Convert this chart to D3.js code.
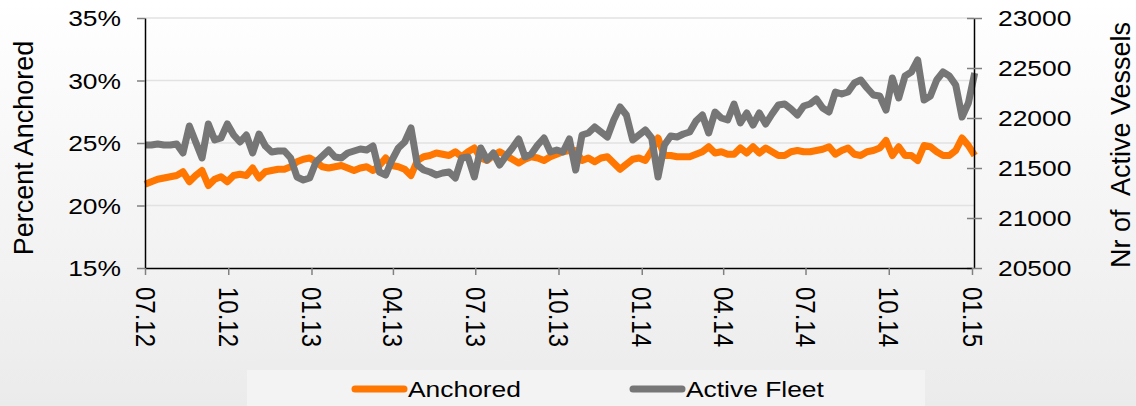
<!DOCTYPE html>
<html>
<head>
<meta charset="utf-8">
<script src="https://cdn.jsdelivr.net/npm/d3@7"></script>
<style>
  body { margin: 0; overflow: hidden; }
  svg { display: block; font-family: "Liberation Sans", Arial, sans-serif; }
</style>
</head>
<body>
<svg id="chart" width="1136" height="406"></svg>
<script>
// weekly series, first week of July 2012 to first week of January 2015
var anchored = [
  21.7, 21.9, 22.1, 22.2, 22.3, 22.4, 22.7, 21.9, 22.4, 22.8,
  21.6, 22.1, 22.3, 21.9, 22.4, 22.5, 22.4, 23.0, 22.2, 22.7,
  22.8, 22.9, 22.9, 23.1, 23.5, 23.7, 23.8, 23.5, 23.1, 23.0,
  23.1, 23.2, 23.0, 22.8, 23.0, 23.1, 22.8, 23.2, 23.8, 23.2,
  23.1, 22.9, 22.4, 23.6, 23.9, 24.0, 24.2, 24.1, 24.0, 24.3,
  23.9, 24.3, 24.6, 23.8, 23.6, 24.0, 24.3, 24.0, 23.7, 23.4,
  23.7, 23.9, 23.8, 23.6, 23.9, 24.1, 24.3, 24.4, 24.4, 23.6,
  23.8, 23.5, 23.8, 23.9, 23.4, 22.9, 23.3, 23.7, 23.8, 23.6,
  24.4, 25.4, 24.0, 24.0, 23.9, 23.9, 23.9, 24.1, 24.3, 24.7,
  24.2, 24.3, 24.1, 24.1, 24.6, 24.2, 24.7, 24.2, 24.6, 24.3,
  24.0, 24.0, 24.3, 24.4, 24.3, 24.3, 24.4, 24.5, 24.7, 24.1,
  24.4, 24.6, 24.1, 24.0, 24.3, 24.4, 24.6, 25.2, 24.0, 24.7,
  24.0, 24.0, 23.6, 24.8, 24.7, 24.3, 24.0, 24.0, 24.4, 25.4,
  24.8, 24.0
];

var activeFleet = [
  21730, 21730, 21740, 21730, 21730, 21740, 21650, 21920, 21760, 21600,
  21940, 21780, 21800, 21940, 21830, 21760, 21830, 21650, 21840, 21720,
  21660, 21670, 21670, 21600, 21410, 21380, 21400, 21560, 21620, 21680,
  21610, 21600, 21650, 21670, 21690, 21680, 21720, 21460, 21430, 21580,
  21700, 21760, 21900, 21530, 21480, 21460, 21430, 21450, 21460, 21400,
  21600, 21610, 21410, 21700, 21580, 21650, 21530, 21620, 21700, 21790,
  21610, 21640, 21730, 21800, 21660, 21680, 21660, 21790, 21480, 21830,
  21850, 21910, 21860, 21810, 21980, 22110, 22030, 21780, 21830, 21880,
  21800, 21410, 21730, 21820, 21810, 21840, 21860, 21970, 22030, 21850,
  22060, 22000, 21980, 22140, 21950, 22050, 21930, 22050, 21940, 22040,
  22130, 22140, 22090, 22030, 22120, 22140, 22190, 22100, 22060, 22260,
  22240, 22260, 22350, 22380, 22300, 22230, 22220, 22080, 22400, 22200,
  22420, 22460, 22580, 22180, 22220, 22380, 22460, 22420, 22330, 22010,
  22150, 22450
];

var pctTicks = [15, 20, 25, 30, 35];
var fleetTicks = [20500, 21000, 21500, 22000, 22500, 23000];
var tickLabels = ["07.12", "10.12", "01.13", "04.13", "07.13", "10.13",
                  "01.14", "04.14", "07.14", "10.14", "01.15"];
var seriesNames = ["Anchored", "Active Fleet"];
var seriesColors = ["#ff7700", "#767676"];

var parseTick = d3.timeParse("%m.%y");
var tickDates = tickLabels.map(parseTick);
var firstWeek = new Date(2012, 6, 1);
var weeks = anchored.map(function(d, i) { return d3.timeWeek.offset(firstWeek, i); });

var svg = d3.select("#chart");
var plotLeft = 145, plotRight = 974, plotTop = 18, plotBottom = 268;
var stretch = 1.2;

// background
var defs = svg.append("defs");
var grad = defs.append("linearGradient").attr("id", "bg")
    .attr("x1", 0).attr("y1", 0).attr("x2", 0).attr("y2", 1);
grad.append("stop").attr("offset", "0%").attr("stop-color", "#ffffff");
grad.append("stop").attr("offset", "100%").attr("stop-color", "#ebebeb");
svg.append("rect").attr("width", 1136).attr("height", 406).attr("fill", "url(#bg)");

var x = d3.scaleTime()
    .domain([tickDates[0], tickDates[tickDates.length - 1]])
    .range([plotLeft, 972]);
var yPct = d3.scaleLinear().domain([15, 35]).range([plotBottom, plotTop]);
var yFleet = d3.scaleLinear().domain([20500, 23000]).range([plotBottom, plotTop]);

// gridlines
svg.append("g")
  .selectAll("line")
  .data(pctTicks.slice(1))
  .enter().append("line")
    .attr("x1", plotLeft).attr("x2", plotRight)
    .attr("y1", function(d) { return yPct(d); })
    .attr("y2", function(d) { return yPct(d); })
    .attr("stroke", "#e2e2e2")
    .attr("stroke-width", 1.5);

// lines
var lineA = d3.line()
    .x(function(d, i) { return x(weeks[i]); })
    .y(function(d) { return yPct(d); });
var lineF = d3.line()
    .x(function(d, i) { return x(weeks[i]); })
    .y(function(d) { return yFleet(d); });

svg.append("path")
    .datum(anchored)
    .attr("d", lineA)
    .attr("fill", "none")
    .attr("stroke", seriesColors[0])
    .attr("stroke-width", 7)
    .attr("stroke-linejoin", "round");

svg.append("path")
    .datum(activeFleet)
    .attr("d", lineF)
    .attr("fill", "none")
    .attr("stroke", seriesColors[1])
    .attr("stroke-width", 7)
    .attr("stroke-linejoin", "round");

// axes
function styleAxis(g) {
  g.select(".domain").attr("stroke", "#000").attr("stroke-width", 1.5);
  g.selectAll(".tick line").attr("stroke", "#808080").attr("stroke-width", 1.5);
  g.selectAll("text").attr("fill", "#000").attr("font-family", "Liberation Sans, Arial, sans-serif");
}

var gLeft = svg.append("g")
    .attr("transform", "translate(" + plotLeft + ",0)")
    .call(d3.axisLeft(yPct).tickValues(pctTicks).tickSize(8).tickSizeOuter(0)
      .tickFormat(function(d) { return d + "%"; }))
    .call(styleAxis);
gLeft.selectAll("text")
    .attr("font-size", 22)
    .attr("x", 0)
    .attr("dy", "0.36em")
    .attr("transform", "translate(-24,0) scale(" + stretch + ",1)");

var gRight = svg.append("g")
    .attr("transform", "translate(" + plotRight + ",0)")
    .call(d3.axisRight(yFleet).tickValues(fleetTicks).tickSize(8).tickSizeOuter(0)
      .tickFormat(d3.format("d")))
    .call(styleAxis);
gRight.selectAll(".tick line").attr("x1", -7);
gRight.selectAll("text")
    .attr("font-size", 22)
    .attr("x", 0)
    .attr("dy", "0.36em")
    .attr("transform", "translate(24,0) scale(" + stretch + ",1)");

var gBottom = svg.append("g")
    .attr("transform", "translate(0," + plotBottom + ")")
    .call(d3.axisBottom(x).tickValues(tickDates).tickSize(7).tickSizeOuter(0)
      .tickFormat(function(d, i) { return tickLabels[i]; }))
    .call(styleAxis);
gBottom.selectAll("text")
    .attr("font-size", 24)
    .attr("x", 0).attr("y", 0)
    .attr("dy", "0.36em")
    .style("text-anchor", "start")
    .attr("transform", "translate(0,19) scale(1.15,1) rotate(90)");

// axis titles
svg.append("text")
    .attr("transform", "translate(33,148) rotate(-90)")
    .attr("text-anchor", "middle")
    .attr("font-size", 27)
    .attr("fill", "#000")
    .text("Percent Anchored");

svg.append("text")
    .attr("transform", "translate(1130,145) rotate(-90)")
    .attr("text-anchor", "middle")
    .attr("font-size", 27)
    .attr("fill", "#000")
    .style("white-space", "pre")
    .text("Nr of  Active Vessels");

// legend
svg.append("rect")
    .attr("x", 247).attr("y", 370).attr("width", 678).attr("height", 40)
    .attr("fill", "#f3f3f3");

var legendX = [352, 630];
var legend = svg.append("g").selectAll("g")
    .data(seriesNames)
    .enter().append("g")
    .attr("transform", function(d, i) { return "translate(" + legendX[i] + ",389)"; });

legend.append("line")
    .attr("x1", 3).attr("x2", 52)
    .attr("stroke", function(d, i) { return seriesColors[i]; })
    .attr("stroke-width", 7)
    .attr("stroke-linecap", "round");

legend.append("text")
    .attr("transform", "translate(56,8) scale(" + stretch + ",1)")
    .attr("font-size", 22)
    .attr("fill", "#000")
    .text(function(d) { return d; });
</script>
</body>
</html>
